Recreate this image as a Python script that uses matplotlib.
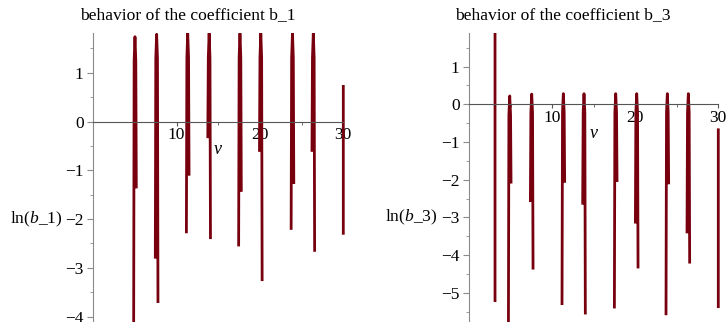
import numpy as np
import matplotlib
matplotlib.use("Agg")
import matplotlib.pyplot as plt
from matplotlib.ticker import MultipleLocator
from matplotlib.transforms import Bbox, TransformedBbox

plt.rcParams['font.family'] = ['Liberation Serif', 'DejaVu Serif']
plt.rcParams['mathtext.fontset'] = 'custom'
plt.rcParams['mathtext.it'] = 'Liberation Serif:italic'
plt.rcParams['mathtext.rm'] = 'Liberation Serif'

nan = np.nan

# ln(b_1) sampled branches, separated by nan
v_b1 = [4.84, 4.90, 5.00, 5.10, 5.16, nan,
        7.44, 7.50, 7.60, 7.70, 7.76, nan,
        11.17, 11.23, 11.33, 11.43, 11.49, nan,
        13.74, 13.80, 13.90, 14.00, 14.06, nan,
        17.44, 17.50, 17.60, 17.70, 17.76, nan,
        19.94, 20.00, 20.10, 20.20, 20.26, nan,
        23.74, 23.80, 23.90, 24.00, 24.06, nan,
        26.24, 26.30, 26.40, 26.50, 26.56, nan,
        30.0, 30.0]
ln_b1 = [-4.5, 1.24, 1.74, 1.24, -1.37, nan,
         -2.81, 1.29, 1.79, 1.29, -3.72, nan,
         -2.29, 1.31, 1.81, 1.31, -1.11, nan,
         -0.34, 1.31, 1.81, 1.31, -2.41, nan,
         -2.56, 1.31, 1.81, 1.31, -1.44, nan,
         -0.62, 1.31, 1.81, 1.31, -3.27, nan,
         -2.22, 1.31, 1.81, 1.31, -1.28, nan,
         -0.62, 1.31, 1.81, 1.31, -2.67, nan,
         -2.32, 0.75]

# ln(b_3)
v_b3 = [3.10, 3.10, nan,
        4.71, 4.77, 4.87, 4.97, 5.03, nan,
        7.36, 7.42, 7.52, 7.62, 7.68, nan,
        11.17, 11.23, 11.33, 11.43, 11.49, nan,
        13.66, 13.72, 13.82, 13.92, 13.98, nan,
        17.48, 17.54, 17.64, 17.74, 17.80, nan,
        20.01, 20.07, 20.17, 20.27, 20.33, nan,
        23.70, 23.76, 23.86, 23.96, 24.02, nan,
        26.23, 26.29, 26.39, 26.49, 26.55, nan,
        30.0, 30.0]
ln_b3 = [-5.24, 2.5, nan,
         -6.2, -0.28, 0.22, -0.28, -2.10, nan,
         -2.59, -0.23, 0.27, -0.23, -4.38, nan,
         -5.32, -0.22, 0.28, -0.22, -2.08, nan,
         -2.66, -0.22, 0.28, -0.22, -5.57, nan,
         -5.41, -0.22, 0.28, -0.22, -2.06, nan,
         -3.16, -0.22, 0.28, -0.22, -4.35, nan,
         -5.59, -0.22, 0.28, -0.22, -2.12, nan,
         -3.42, -0.22, 0.28, -0.22, -4.22, nan,
         -5.4, -0.64]

W, H = 728, 322
fig = plt.figure(figsize=(W / 100, H / 100), dpi=100)

color = '#78000E'


def panel(rect, v, y, ylim, yticks, title, title_x, ylab, ylab_pos, xlab_pos):
    ax = fig.add_axes(rect)
    ax.set_xlim(0, 30)
    ax.set_ylim(*ylim)
    line, = ax.plot(v, y, color=color, lw=2.0, solid_capstyle='butt')
    # clip only top/bottom so the branch at v = 30 is not cut in half
    line.set_clip_box(TransformedBbox(Bbox([[-1, ylim[0]], [31, ylim[1]]]),
                                      ax.transData))
    for s in ['top', 'right']:
        ax.spines[s].set_visible(False)
    ax.spines['left'].set_position(('data', 0))
    ax.spines['left'].set_color('#8a8a8a')
    ax.spines['bottom'].set_position(('data', 0))
    ax.spines['bottom'].set_color('#555555')
    ax.set_xticks([10, 20, 30])
    ax.set_xticklabels(['10', '20', '30'])
    ax.xaxis.set_minor_locator(MultipleLocator(5))
    ax.set_yticks(yticks)
    ax.set_yticklabels([('\u2212' + str(-t)) if t < 0 else str(t) for t in yticks])
    ax.yaxis.set_minor_locator(MultipleLocator(0.5))
    ax.tick_params(axis='x', which='major', length=3, color='#555555',
                   labelsize=12.5, pad=1)
    ax.tick_params(axis='x', which='minor', length=2, color='#555555')
    ax.tick_params(axis='y', which='major', length=4, color='#8a8a8a',
                   labelsize=12.5, pad=3)
    ax.tick_params(axis='y', which='minor', length=2, color='#8a8a8a')
    for lab in ax.get_xticklabels():
        lab.set_clip_on(False)
    fig.text(title_x / W, 1 - 15 / H, title, ha='center', va='center',
             fontsize=12.6)
    fig.text(ylab_pos[0] / W, 1 - ylab_pos[1] / H, ylab, ha='center',
             va='center', fontsize=12.6)
    fig.text(xlab_pos[0] / W, 1 - xlab_pos[1] / H, r'$v$', ha='center',
             va='center', fontsize=13)
    return ax


panel([93.3 / W, 0, 250 / W, 288.7 / H], v_b1, ln_b1, (-4.11, 1.81),
      [-4, -3, -2, -1, 0, 1], 'behavior of the coefficient b_1', 187.5,
      r'ln($b\_1$)', (36.5, 219), (218, 150))
panel([469.3 / W, 0, 249 / W, 288.7 / H], v_b3, ln_b3, (-5.77, 1.88),
      [-5, -4, -3, -2, -1, 0, 1], 'behavior of the coefficient b_3', 563,
      r'ln($b\_3$)', (411.5, 217), (594, 133))

fig.savefig('out.png', dpi=100)
